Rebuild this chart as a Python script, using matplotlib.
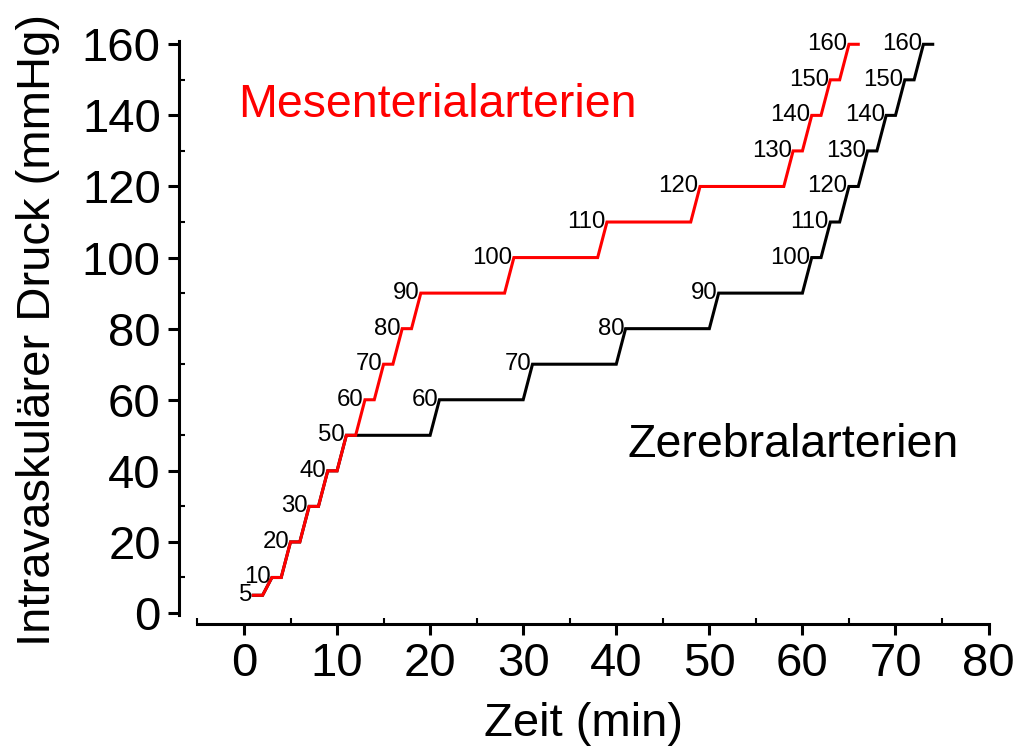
import matplotlib.pyplot as plt

plt.rcParams['font.family'] = ['Liberation Sans', 'DejaVu Sans']

# pressure levels (mmHg) and start/end time (min) of each level
mes_p = [5, 10, 20, 30, 40, 50, 60, 70, 80, 90, 100, 110, 120, 130, 140, 150, 160]
mes_t0 = [1, 3, 5, 7, 9, 11, 13, 15, 17, 19, 29, 39, 49, 59, 61, 63, 65]
mes_t1 = [2, 4, 6, 8, 10, 12, 14, 16, 18, 28, 38, 48, 58, 60, 62, 64, 66]

zer_p = [5, 10, 20, 30, 40, 50, 60, 70, 80, 90, 100, 110, 120, 130, 140, 150, 160]
zer_t0 = [1, 3, 5, 7, 9, 11, 21, 31, 41, 51, 61, 63, 65, 67, 69, 71, 73]
zer_t1 = [2, 4, 6, 8, 10, 20, 30, 40, 50, 60, 62, 64, 66, 68, 70, 72, 74]


def trace(t0, t1, p):
    xs, ys = [], []
    for a, b, v in zip(t0, t1, p):
        xs += [a, b]
        ys += [v, v]
    return xs, ys


fig = plt.figure(figsize=(10.16, 7.51), dpi=100)
ax = fig.add_axes([0.176, 0.1695, 0.797, 0.781])

x, y = trace(zer_t0, zer_t1, zer_p)
ax.plot(x, y, color='black', lw=2.2, solid_joinstyle='miter')
x, y = trace(mes_t0, mes_t1, mes_p)
ax.plot(x, y, color='red', lw=2.2, solid_joinstyle='miter')

# step labels
lab = dict(ha='right', va='center', fontsize=17.3)
for t, v in zip(zer_t0, zer_p):
    ax.text(t - 0.15, v, str(v), **lab)
for t, v in zip(mes_t0[6:], mes_p[6:]):
    ax.text(t - 0.15, v, str(v), **lab)

ax.text(-0.65, 143, 'Mesenterialarterien', color='red', fontsize=33.5, va='center')
ax.text(41.2, 47.2, 'Zerebralarterien', color='black', fontsize=33.5, va='center')

ax.set_xlim(-7, 80)
ax.set_ylim(-3, 162)
ax.spines['top'].set_visible(False)
ax.spines['right'].set_visible(False)
ax.spines['left'].set_bounds(-0.5, 161)
ax.spines['bottom'].set_bounds(-5, 80)
for s in ('left', 'bottom'):
    ax.spines[s].set_linewidth(2.2)

ax.set_xticks(range(0, 81, 10))
ax.set_xticks(range(-5, 81, 5), minor=True)
ax.set_yticks(range(0, 161, 20))
ax.set_yticks(range(0, 161, 10), minor=True)
ax.tick_params(which='major', direction='out', length=8, width=2.2, labelsize=34, pad=5)
ax.tick_params(which='minor', direction='in', length=4, width=1.5)

ax.set_xlabel('Zeit (min)', fontsize=34, labelpad=12)
ax.set_ylabel('Intravaskulärer Druck (mmHg)', fontsize=34, labelpad=16)

fig.savefig('out.png', dpi=100)
